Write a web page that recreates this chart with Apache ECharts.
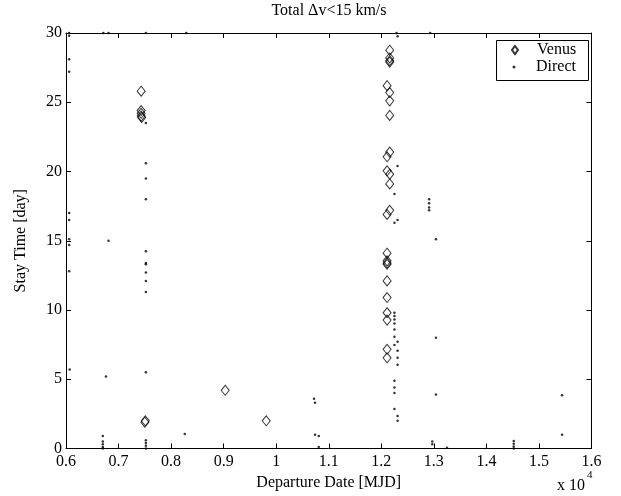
<!DOCTYPE html>
<html><head><meta charset="utf-8">
<script src="https://cdn.jsdelivr.net/npm/echarts@6/dist/echarts.min.js"></script>
<style>html,body{margin:0;padding:0;background:#fff}#c{width:621px;height:496px}</style>
</head><body><div id="c"></div>
<script>
const xTicks = [0.6,0.7,0.8,0.9,1.0,1.1,1.2,1.3,1.4,1.5,1.6];
const yTicks = [0,5,10,15,20,25,30];
const venusPoints = [
  [0.743,25.8],[0.743,24.4],[0.743,24.2],[0.743,24.0],[0.744,23.9],
  [0.751,2.0],[0.750,1.9],[0.903,4.2],[0.981,2.0],
  [1.216,28.76],[1.216,28.2],[1.216,28.0],[1.216,27.9],[1.211,26.2],[1.216,25.7],
  [1.216,25.1],[1.216,24.05],[1.216,21.4],[1.211,21.06],[1.211,20.05],[1.216,19.8],
  [1.216,19.1],[1.216,17.2],[1.211,16.9],[1.211,14.1],[1.211,13.55],[1.211,13.4],
  [1.211,13.3],[1.211,12.1],[1.211,10.9],[1.211,9.8],[1.211,9.27],[1.211,7.16],[1.211,6.55]
];
const directPoints = [
  [0.606,30],[0.606,29.8],[0.606,28.1],[0.606,27.2],[0.606,17.0],[0.606,16.5],
  [0.606,15.1],[0.606,14.7],[0.606,12.8],[0.607,5.7],
  [0.670,0.9],[0.670,0.5],[0.670,0.3],[0.670,0.1],[0.670,0.0],
  [0.671,30],[0.681,30],[0.681,15.0],[0.676,5.2],
  [0.752,30],[0.752,23.5],[0.752,20.6],[0.752,19.5],[0.752,18.0],[0.752,14.25],
  [0.752,13.4],[0.752,13.3],[0.752,12.7],[0.752,12.1],[0.752,11.3],[0.752,5.5],
  [0.752,0.6],[0.752,0.4],[0.752,0.2],[0.752,0.0],
  [0.826,1.05],[0.829,30],
  [1.072,3.6],[1.074,3.3],[1.074,1.0],[1.081,0.9],[1.081,0.1],
  [1.229,30],[1.231,29.77],[1.231,20.4],[1.225,18.37],[1.225,16.3],[1.231,16.5],
  [1.225,9.8],[1.225,9.56],[1.225,9.32],[1.225,9.03],[1.225,8.6],[1.225,8.07],[1.225,7.47],
  [1.225,4.9],[1.225,4.4],[1.225,4.0],[1.225,2.85],
  [1.231,7.7],[1.231,7.06],[1.231,6.55],[1.231,6.05],[1.231,2.35],[1.231,2.0],
  [1.291,18.0],[1.291,17.7],[1.291,17.4],[1.291,17.2],[1.293,30],
  [1.304,15.1],[1.304,8.0],[1.304,3.9],
  [1.297,0.5],[1.297,0.3],[1.325,0.05],
  [1.452,0.55],[1.452,0.35],[1.452,0.15],[1.452,0.0],
  [1.544,3.85],[1.544,1.0]
];
const FONT = 'Liberation Serif';
const FS = 16;
const axisCommon = {
  axisLine:{show:true,onZero:false,lineStyle:{color:'#000',width:1}},
  axisTick:{show:true,inside:true,length:5,lineStyle:{color:'#000'}},
  splitLine:{show:false}
};
const legendText = {fontFamily:FONT,fontSize:FS,color:'#000'};
const chart = echarts.init(document.getElementById('c'));
chart.setOption({
  animation:false,
  backgroundColor:'#fff',
  textStyle:{fontFamily:FONT},
  title:{text:'Total Δv<15 km/s',left:329,textAlign:'center',top:3,padding:0,
    textStyle:{fontFamily:FONT,fontSize:FS,fontWeight:'normal',color:'#000'}},
  grid:{left:66,right:29.5,top:33,bottom:47.5},
  legend:[
    {left:511,top:42,padding:0,itemWidth:6,itemHeight:8,selectedMode:false,
      textStyle:Object.assign({padding:[0,0,0,14]},legendText),data:['Venus']},
    {left:512.5,top:59,padding:0,itemWidth:3,itemHeight:3,selectedMode:false,
      textStyle:Object.assign({padding:[0,0,0,15.5]},legendText),data:['Direct']}
  ],
  xAxis:[
    Object.assign({type:'value',min:xTicks[0],max:xTicks[xTicks.length-1],interval:0.1,
      position:'bottom',name:'Departure Date [MJD]',nameLocation:'middle',nameGap:20,
      nameTextStyle:{fontFamily:FONT,fontSize:FS,color:'#000'},
      axisLabel:{color:'#000',fontFamily:FONT,fontSize:FS,margin:5,
        formatter:v=>String(Math.round(v*10)/10)}},axisCommon),
    Object.assign({type:'value',min:xTicks[0],max:xTicks[xTicks.length-1],interval:0.1,
      position:'top',axisLabel:{show:false}},axisCommon)
  ],
  yAxis:[
    Object.assign({type:'value',min:yTicks[0],max:yTicks[yTicks.length-1],interval:5,
      position:'left',name:'Stay Time [day]',nameLocation:'middle',nameGap:37,
      nameTextStyle:{fontFamily:FONT,fontSize:FS,color:'#000'},
      axisLabel:{color:'#000',fontFamily:FONT,fontSize:FS,margin:4}},axisCommon),
    Object.assign({type:'value',min:yTicks[0],max:yTicks[yTicks.length-1],interval:5,
      position:'right',axisLabel:{show:false}},axisCommon)
  ],
  graphic:[
    {type:'rect',left:494,top:38,z:10,silent:true,
      shape:{width:92,height:40},style:{fill:'none',stroke:'#000',lineWidth:1}},
    {type:'text',left:557,top:478,
      style:{text:'x 10',fontFamily:FONT,fontSize:FS,fill:'#000'}},
    {type:'text',left:587,top:470,
      style:{text:'4',fontFamily:FONT,fontSize:11,fill:'#000'}}
  ],
  series:[
    {name:'Venus',type:'scatter',data:venusPoints,symbol:'diamond',symbolSize:[8,10],
      clip:false,
      itemStyle:{color:'rgba(0,0,0,0)',borderColor:'#000',borderWidth:1},z:3},
    {name:'Direct',type:'scatter',data:directPoints,symbol:'circle',symbolSize:2.5,
      clip:false,itemStyle:{color:'#000'},z:4}
  ]
});
</script></body></html>
